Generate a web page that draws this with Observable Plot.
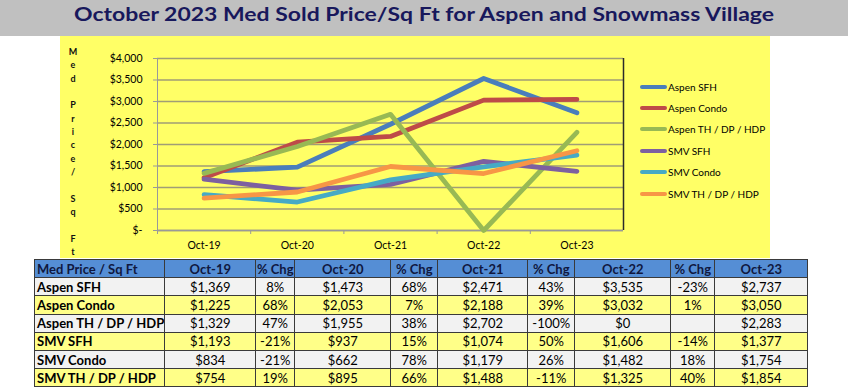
<!DOCTYPE html>
<html>
<head>
<meta charset="utf-8">
<script src="https://cdn.jsdelivr.net/npm/d3@7"></script>
<script src="https://cdn.jsdelivr.net/npm/@observablehq/plot@0.6"></script>
<style>
  html, body { margin: 0; padding: 0; background: #fff; }
  body { width: 848px; height: 387px; position: relative; overflow: hidden; font-family: Carlito, Lato, sans-serif; }
  #title { position: absolute; left: 0; top: 0; width: 848px; height: 36px; background: #c0c0c0; }
  #title span { position: absolute; left: 424px; top: 3px; white-space: nowrap; font-family: Lato, sans-serif; font-weight: 700; font-size: 18.5px; color: #18185c; transform-origin: 0 0; }
  #chartbg { position: absolute; left: 60px; top: 36px; width: 710px; height: 222px; background: #ffff66; }
  #chart { position: absolute; left: 60px; top: 36px; }
  #ylabel { position: absolute; left: 66px; top: 45px; width: 14px; text-align: center; font-family: Lato, sans-serif; font-weight: 700; font-size: 9px; line-height: 13.33px; color: #111; }
  #legend { position: absolute; left: 640px; top: 76px; font-family: Lato, sans-serif; font-size: 10px; color: #000; }
  #legend .row { height: 21.4px; display: flex; align-items: center; }
  #legend .sw { width: 27px; height: 4px; border-radius: 2px; margin-right: 1px; }
  #tbl { position: absolute; left: 34px; top: 259px; border-collapse: collapse; table-layout: fixed; font-family: Lato, sans-serif; font-size: 13px; color: #000; }
  #tbl td { border: 1px solid #3a3a3a; padding: 0; height: 17.2px; text-align: center; white-space: nowrap; overflow: hidden; }
  #tbl td.first { text-align: left; padding-left: 2px; font-weight: 700; }
  #tbl tr.head td { background: #558ed5; font-weight: 700; color: #101840; }
  #tbl tr.gray td { background: #f2f2f2; }
  #tbl tr.yel td { background: #ffff88; }
</style>
</head>
<body>
<div id="title"><span id="titletext">October 2023 Med Sold Price/Sq Ft for Aspen and Snowmass Village</span></div>
<div id="chartbg"></div>
<div id="ylabel"></div>
<div id="chart"></div>
<div id="legend"></div>
<table id="tbl"></table>
<script>
// ---- data ----
const categories = ["Oct-19", "Oct-20", "Oct-21", "Oct-22", "Oct-23"];
const seriesNames = ["Aspen SFH", "Aspen Condo", "Aspen TH / DP / HDP", "SMV SFH", "SMV Condo", "SMV TH / DP / HDP"];
const aspenSFH   = [1369, 1473, 2471, 3535, 2737];
const aspenCondo = [1225, 2053, 2188, 3032, 3050];
const aspenTH    = [1329, 1955, 2702, 0, 2283];
const smvSFH     = [1193, 937, 1074, 1606, 1377];
const smvCondo   = [834, 662, 1179, 1482, 1754];
const smvTH      = [754, 895, 1488, 1325, 1854];
const chg1 = [8, 68, 47, -21, -21, 19];
const chg2 = [68, 7, 38, 15, 78, 66];
const chg3 = [43, 39, -100, 50, 26, -11];
const chg4 = [-23, 1, null, -14, 18, 40];
const yTicks = [0, 500, 1000, 1500, 2000, 2500, 3000, 3500, 4000];
const tableHeader = ["Med Price / Sq Ft", "Oct-19", "% Chg", "Oct-20", "% Chg", "Oct-21", "% Chg", "Oct-22", "% Chg", "Oct-23"];
const colors = ["#4a7ebb", "#be4b48", "#98b954", "#7d60a0", "#46aac5", "#f79646"];

const seriesValues = [aspenSFH, aspenCondo, aspenTH, smvSFH, smvCondo, smvTH];
const changes = [chg1, chg2, chg3, chg4];

// ---- title fit ----
const tt = document.getElementById("titletext");
const tw = tt.getBoundingClientRect().width;
const sx = 700 / tw;
tt.style.transform = `scale(${sx}, 1) translateX(${-tw / 2}px)`;

// ---- y label (stacked letters) ----
const yl = document.getElementById("ylabel");
const letters = ["M","e","d","\u00a0","P","r","i","c","e","/","\u00a0","S","q","\u00a0","F","t"];
letters.forEach(ch => { const d = document.createElement("div"); d.textContent = ch; yl.appendChild(d); });

// ---- chart ----
const rows = seriesNames.flatMap((name, s) => seriesValues[s].map((v, i) => ({series: name, i, value: v})));
const money = v => v === 0 ? "$-" : "$" + d3.format(",")(v);

const chart = Plot.plot({
  width: 710, height: 222,
  marginLeft: 97, marginRight: 147, marginTop: 22, marginBottom: 28,
  style: {background: "transparent", fontFamily: "Lato, sans-serif", fontSize: "10.5px", color: "#000", overflow: "visible"},
  x: {type: "linear", domain: [-0.5, 4.5], axis: null},
  y: {domain: [0, 4000], axis: null},
  color: {domain: seriesNames, range: colors},
  marks: [
    Plot.gridY(yTicks, {stroke: "#a09d76", strokeOpacity: 1, strokeWidth: 1.3}),
    Plot.ruleX([-0.5], {stroke: "#999"}),
    Plot.ruleX([4.5], {stroke: "#2a2a2a", strokeWidth: 1.5}),
    Plot.ruleY([0], {stroke: "#999", strokeWidth: 1.3}),
    Plot.axisY({ticks: yTicks, tickFormat: money, tickSize: 4, tickPadding: 11, stroke: "#999", fill: "#000", label: null, fontSize: 10.5}),
    Plot.axisX({ticks: [-0.5, 0.5, 1.5, 2.5, 3.5], tickFormat: () => "", tickSize: 4, stroke: "#999", label: null}),
    Plot.axisX({ticks: [0, 1, 2, 3, 4], tickFormat: i => categories[i], tickSize: 0, tickPadding: 11, fill: "#000", label: null, fontSize: 10.5}),
    Plot.line(rows, {x: "i", y: "value", z: "series", stroke: "series", strokeWidth: 4.8, strokeLinejoin: "round", strokeLinecap: "round"})
  ]
});
document.getElementById("chart").appendChild(chart);

// ---- legend ----
const lg = document.getElementById("legend");
seriesNames.forEach((name, s) => {
  const r = document.createElement("div"); r.className = "row";
  const sw = document.createElement("span"); sw.className = "sw"; sw.style.background = colors[s];
  const t = document.createElement("span"); t.textContent = name;
  r.appendChild(sw); r.appendChild(t); lg.appendChild(r);
});

// ---- table ----
const colWidths = [123, 91, 39, 96, 47, 90, 47, 96, 44, 93];
const tbl = document.getElementById("tbl");
const cg = document.createElement("colgroup");
colWidths.forEach(w => { const c = document.createElement("col"); c.style.width = w + "px"; cg.appendChild(c); });
tbl.appendChild(cg);
const hr = document.createElement("tr"); hr.className = "head";
tableHeader.forEach((h, k) => { const td = document.createElement("td"); td.textContent = h; if (k === 0) td.className = "first"; hr.appendChild(td); });
tbl.appendChild(hr);
const fmtMoney = v => "$" + d3.format(",")(v);
seriesNames.forEach((name, s) => {
  const tr = document.createElement("tr"); tr.className = s % 2 === 0 ? "gray" : "yel";
  const cells = [name];
  for (let i = 0; i < 5; i++) {
    cells.push(fmtMoney(seriesValues[s][i]));
    if (i < 4) { const c = changes[i][s]; cells.push(c === null ? "" : c + "%"); }
  }
  cells.forEach((c, k) => { const td = document.createElement("td"); td.textContent = c; if (k === 0) td.className = "first"; tr.appendChild(td); });
  tbl.appendChild(tr);
});
</script>
</body>
</html>
